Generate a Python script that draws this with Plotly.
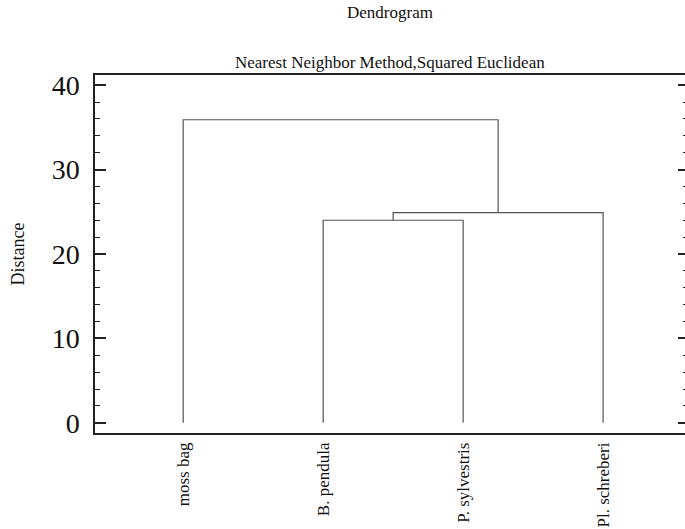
import plotly.graph_objects as go

leaves = ["moss bag", "B. pendula", "P. sylvestris", "Pl. schreberi"]
# merges: (left node, right node, height); nodes 0..3 are leaves, 4+ are clusters
merges = [(1, 2, 24.0), (4, 3, 24.9), (0, 5, 35.9)]

pos = {i: i + 1 for i in range(len(leaves))}
hgt = {i: 0.0 for i in range(len(leaves))}

xs, ys = [], []
for k, (a, b, h) in enumerate(merges):
    node = len(leaves) + k
    xs += [pos[a], pos[a], pos[b], pos[b], None]
    ys += [hgt[a], h, h, hgt[b], None]
    pos[node] = (pos[a] + pos[b]) / 2
    hgt[node] = h

font = "Liberation Serif, Times New Roman, serif"
fig = go.Figure()
fig.add_trace(go.Scatter(x=xs, y=ys, mode="lines",
                         line=dict(color="#555555", width=1.2),
                         showlegend=False, hoverinfo="skip"))
# invisible trace for right-side tick axis
fig.add_trace(go.Scatter(x=[None], y=[None], yaxis="y2", showlegend=False))

yr = [-1.2, 41.2]
fig.update_layout(
    width=685, height=529,
    margin=dict(l=95, r=0, t=75, b=96),
    paper_bgcolor="white", plot_bgcolor="white",
    font=dict(family=font, color="#111111"),
    xaxis=dict(range=[0.37, 4.585], tickvals=[1, 2, 3, 4], ticktext=leaves,
               tickangle=-90, showgrid=False, zeroline=False, ticks="", automargin=False,
               showline=True, linecolor="#222222", linewidth=1.5, mirror=True,
               tickfont=dict(size=17, family=font), ticklabelstandoff=1),
    yaxis=dict(range=yr, tickvals=[0, 10, 20, 30, 40], showgrid=False, zeroline=False,
               ticks="inside", ticklen=11, tickwidth=1.5, tickcolor="#222222", automargin=False,
               showline=True, linecolor="#222222", linewidth=1.5,
               tickfont=dict(size=28, family=font), ticklabelstandoff=8,
               minor=dict(dtick=2, ticks="inside", ticklen=5, tickcolor="#222222", tickwidth=1),
               title=dict(text="Distance", font=dict(size=18, family=font), standoff=22)),
    yaxis2=dict(range=yr, overlaying="y", side="right", anchor="x", automargin=False,
                tickvals=[0, 10, 20, 30, 40], showticklabels=False, showgrid=False,
                zeroline=False, showline=False, ticks="inside", ticklen=7, tickwidth=1.5,
                tickcolor="#222222",
                minor=dict(dtick=2, ticks="inside", ticklen=2, tickcolor="#222222", tickwidth=1)),
    annotations=[
        dict(text="Dendrogram", x=0.5, y=1, xref="paper", yref="paper", yanchor="bottom",
             yshift=51, showarrow=False, font=dict(size=17, family=font)),
        dict(text="Nearest Neighbor Method,Squared Euclidean", x=0.5, y=1, xref="paper",
             yref="paper", yanchor="bottom", yshift=1, showarrow=False,
             font=dict(size=17, family=font)),
    ],
)
fig.write_html("out.html")
